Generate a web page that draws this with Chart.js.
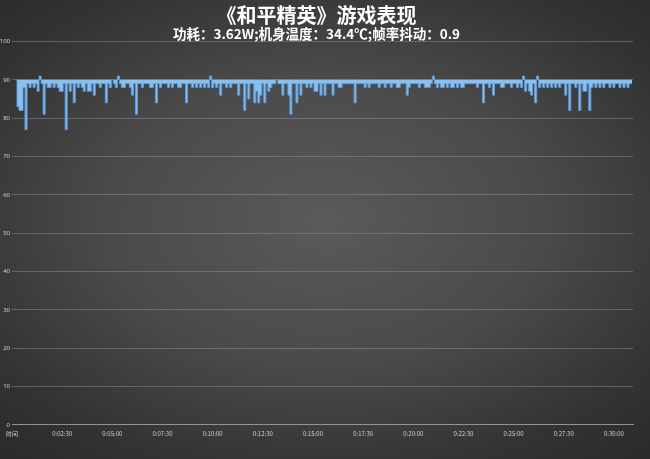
<!DOCTYPE html>
<html>
<head>
<meta charset="utf-8">
<script src="https://cdn.jsdelivr.net/npm/chart.js@4.4.1/dist/chart.umd.min.js"></script>
<style>
  html, body { margin: 0; padding: 0; }
  #wrap {
    width: 650px; height: 459px; position: relative;
    background: radial-gradient(ellipse 75% 70% at 50% 48%, #5a5a5a 0%, #4a4a4a 45%, #333333 80%, #2a2a2a 100%);
  }
</style>
</head>
<body>
<div id="wrap"><canvas id="fpsChart"></canvas></div>
<script>
// title texts
let titleText = '《和平精英》游戏表现';
let subText = '功耗：3.62W;机身温度：34.4℃;帧率抖动：0.9';

// x axis ticks (seconds) and their labels
let tickSecs = [0, 150, 300, 450, 600, 750, 900, 1050, 1200, 1350, 1500, 1650, 1800];
let tickLabels = ['时间', '0:02:30', '0:05:00', '0:07:30', '0:10:00', '0:12:30', '0:15:00',
    '0:17:30', '0:20:00', '0:22:30', '0:25:00', '0:27:30', '0:30:00'];

// sampling: first sample at 12s, one every 6s
let startSec = 12;
let stepSec = 6;

// frame rate (fps), lowest value seen in each 6s slot
let fps = [
    90, 83, 82, 82, 88, 77, 89, 88, 89, 88, 89, 87, 91, 89, 81, 89, 88, 88, 89, 88,
    89, 88, 87, 87, 89, 77, 89, 87, 89, 84, 89, 88, 89, 88, 87, 89, 87, 87, 89, 86,
    89, 89, 88, 89, 89, 84, 89, 88, 90, 89, 88, 91, 89, 88, 88, 89, 89, 88, 86, 89,
    81, 89, 89, 88, 89, 89, 89, 88, 88, 89, 84, 89, 88, 89, 89, 89, 88, 89, 88, 89,
    89, 88, 88, 89, 89, 84, 89, 89, 88, 89, 88, 89, 88, 89, 88, 89, 88, 91, 88, 89,
    88, 89, 86, 89, 89, 88, 89, 88, 89, 89, 89, 86, 89, 89, 82, 89, 85, 89, 89, 84,
    87, 84, 86, 89, 84, 89, 87, 88, 89, 89, 90, 89, 89, 86, 89, 89, 86, 81, 89, 89,
    84, 89, 86, 89, 89, 88, 89, 88, 89, 87, 87, 89, 86, 89, 86, 89, 89, 89, 86, 89,
    89, 88, 88, 89, 89, 89, 89, 89, 89, 84, 89, 89, 89, 89, 88, 89, 88, 89, 89, 89,
    89, 88, 89, 89, 88, 89, 89, 88, 89, 89, 88, 88, 89, 89, 89, 86, 88, 89, 89, 89,
    89, 88, 89, 89, 88, 88, 88, 89, 91, 89, 88, 89, 88, 88, 89, 88, 89, 88, 88, 89,
    88, 89, 88, 88, 89, 89, 89, 89, 89, 89, 88, 89, 89, 84, 89, 89, 88, 89, 86, 89,
    89, 89, 88, 88, 89, 89, 89, 88, 89, 89, 88, 89, 88, 91, 87, 89, 87, 86, 89, 84,
    91, 88, 89, 88, 89, 88, 89, 88, 89, 88, 89, 88, 89, 89, 86, 89, 82, 89, 89, 88,
    89, 82, 89, 87, 87, 89, 82, 88, 89, 88, 89, 88, 89, 88, 89, 89, 88, 89, 88, 89,
    89, 88, 89, 88, 89, 88, 89, 89
];

function buildPoints() {
    let pts = [];
    for (let i = 0; i < fps.length; i++) {
        pts.push({ x: startSec + i * stepSec, y: fps[i] });
    }
    return pts;
}

let tickColor = '#d0d0d0';
let gridColor = 'rgba(150,150,150,0.45)';

let ctx = document.getElementById('fpsChart').getContext('2d');
let chart = new Chart(ctx, {
    type: 'line',
    data: {
        datasets: [{
            data: buildPoints(),
            borderColor: '#5f9ad6',
            backgroundColor: '#8ac0f0',
            borderWidth: 1,
            pointRadius: 0,
            stepped: 'middle',
            fill: { value: 90 }
        }]
    },
    options: {
        responsive: true,
        maintainAspectRatio: false,
        animation: { duration: 0 },
        layout: { padding: { left: 0, right: 17, top: 0, bottom: 17 } },
        plugins: {
            legend: { display: false },
            tooltip: { enabled: false },
            title: {
                display: true,
                text: titleText,
                color: '#ffffff',
                font: { family: 'Noto Sans CJK SC', size: 20, weight: 'bold', lineHeight: 1.0 },
                padding: { top: 5, bottom: 0 }
            },
            subtitle: {
                display: true,
                text: subText,
                color: '#ffffff',
                font: { family: 'Noto Sans CJK SC', size: 13.5, weight: 'bold', lineHeight: 1.0 },
                padding: { top: 2, bottom: 1 }
            }
        },
        scales: {
            x: {
                type: 'linear',
                min: 0,
                max: 1857,
                afterBuildTicks: (scale) => {
                    scale.ticks = tickSecs.map(v => ({ value: v }));
                },
                ticks: {
                    autoSkip: false,
                    maxRotation: 0,
                    padding: 5,
                    color: tickColor,
                    font: { family: 'Noto Sans CJK SC', size: 6 },
                    callback: (value) => tickLabels[tickSecs.indexOf(value)]
                },
                grid: { display: false, drawTicks: false },
                border: { color: 'rgba(170,170,170,0.7)' }
            },
            y: {
                min: 0,
                max: 100,
                afterFit: (scale) => { scale.width = 12; },
                ticks: {
                    stepSize: 10,
                    padding: 2,
                    color: tickColor,
                    font: { family: 'Noto Sans', size: 6 }
                },
                grid: { color: gridColor, drawTicks: false },
                border: { display: false }
            }
        }
    }
});
</script>
</body>
</html>
